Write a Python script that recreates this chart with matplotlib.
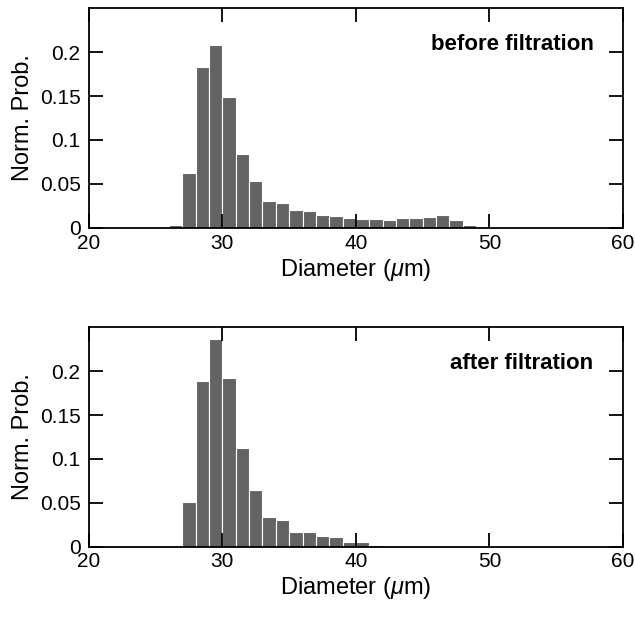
import numpy as np
import matplotlib
matplotlib.use("Agg")
import matplotlib.pyplot as plt

plt.rcParams["font.family"] = ["Liberation Sans", "DejaVu Sans"]
plt.rcParams["mathtext.fontset"] = "custom"
plt.rcParams["mathtext.it"] = "Liberation Sans:italic"

# bin centres (1 um wide bins)
centers = np.arange(26.5, 49.5, 1.0)

# normalised probability per bin
before = [0.003, 0.062, 0.183, 0.208, 0.1485, 0.084, 0.053, 0.031, 0.028,
          0.021, 0.019, 0.0144, 0.0136, 0.011, 0.010, 0.010, 0.0094, 0.0117,
          0.011, 0.013, 0.0148, 0.0094, 0.003]
after = [0.0, 0.0504, 0.1887, 0.2368, 0.192, 0.1125, 0.065, 0.034, 0.0303,
         0.0167, 0.0167, 0.0125, 0.0112, 0.0048, 0.005, 0.002, 0.0, 0.0,
         0.0, 0.0, 0.0, 0.0, 0.0]

labels = ["before filtration", "after filtration"]
yticks = [0, 0.05, 0.1, 0.15, 0.2]
yticklabels = ["0", "0.05", "0.1", "0.15", "0.2"]
xticks = [20, 30, 40, 50, 60]

fig = plt.figure(figsize=(6.35, 6.17), dpi=100)
ax1 = fig.add_axes([0.140, 0.6305, 0.841, 0.3565])
ax2 = fig.add_axes([0.140, 0.114, 0.841, 0.3555])

for ax, vals, lab in zip([ax1, ax2], [before, after], labels):
    ax.bar(centers, vals, width=1.0, color="#636363", edgecolor="white",
           linewidth=0.8)
    ax.set_xlim(20, 60)
    ax.set_ylim(0, 0.25)
    ax.set_xticks(xticks)
    ax.set_yticks(yticks)
    ax.set_yticklabels(yticklabels)
    ax.tick_params(direction="in", length=10, width=1.3, labelsize=15,
                   top=True, right=True)
    ax.tick_params(axis="x", pad=4)
    ax.tick_params(axis="y", pad=6)
    ax.set_xlabel("Diameter ($\\mu$m)", fontsize=17, labelpad=3)
    ax.set_ylabel("Norm. Prob.", fontsize=17, labelpad=4)
    for s in ax.spines.values():
        s.set_linewidth(1.3)
    ax.text(0.945, 0.835, lab, transform=ax.transAxes, ha="right",
            va="center", fontsize=16, fontweight="bold")

fig.savefig("out.png", dpi=100)
